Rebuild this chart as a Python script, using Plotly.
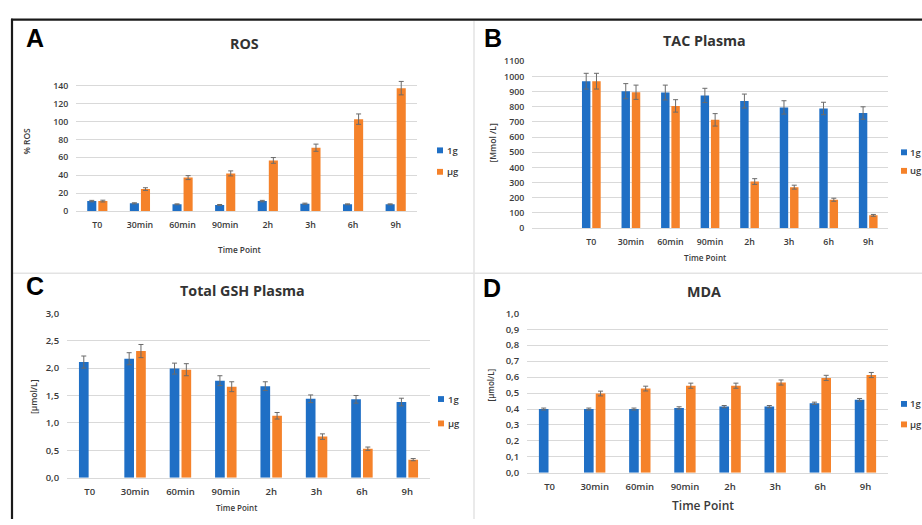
import plotly.graph_objects as go

# ---------------- data ----------------
categories = ["T0", "30min", "60min", "90min", "2h", "3h", "6h", "9h"]

ros_1g = [11.2, 8.7, 7.6, 6.9, 11.2, 8.3, 7.6, 7.6]
ros_1g_err = [0.8, 0.6, 0.5, 0.5, 0.8, 0.6, 0.5, 0.5]
ros_ug = [11.2, 24.6, 37.4, 42.1, 56.6, 70.8, 102.7, 137.3]
ros_ug_err = [1.0, 1.5, 2.2, 2.8, 3.2, 4.0, 5.8, 7.5]

tac_1g = [969, 903, 894, 875, 838, 796, 789, 759]
tac_1g_err = [52, 50, 49, 47, 46, 44, 41, 41]
tac_ug = [969, 896, 806, 714, 307, 270, 187, 84]
tac_ug_err = [52, 47, 41, 41, 19, 13, 10, 6]

gsh_1g = [2.11, 2.17, 1.99, 1.77, 1.67, 1.44, 1.43, 1.38]
gsh_1g_err = [0.11, 0.11, 0.10, 0.09, 0.08, 0.07, 0.07, 0.07]
gsh_ug = [None, 2.31, 1.97, 1.66, 1.13, 0.75, 0.53, 0.33]
gsh_ug_err = [None, 0.12, 0.11, 0.09, 0.06, 0.05, 0.03, 0.02]

mda_1g = [0.40, 0.40, 0.40, 0.407, 0.415, 0.415, 0.436, 0.458]
mda_1g_err = [0.006, 0.006, 0.006, 0.007, 0.007, 0.007, 0.007, 0.008]
mda_ug = [None, 0.497, 0.528, 0.546, 0.546, 0.566, 0.595, 0.613]
mda_ug_err = [None, 0.015, 0.015, 0.016, 0.016, 0.016, 0.016, 0.016]

names_A = ["1g", "μg"]
names_B = ["1g", "ug"]
names_C = ["1g", "μg"]
names_D = ["1g", "μg"]

# ---------------- style ----------------
W, H = 922, 525
BLUE = "#1f6fc5"
ORANGE = "#f5822a"
GRID = "#d9d9d9"
TXT = "#3a3a3a"
FONT = "Open Sans"


def X(px):
    return px / W


def Y(py):
    return 1 - py / H


panels = [
    dict(letter="A", title="ROS", ytitle="% ROS", names=names_A,
         s1=ros_1g, e1=ros_1g_err, s2=ros_ug, e2=ros_ug_err,
         dom_x=(76, 417), dom_y=(74.3, 209.3), yrange=[0, 147], dtick=20, fmt="",
         xrange=[-0.5, 7.5], tickfs=8.8,
         letter_pos=(24, 32), title_pos=(244, 37), ytitle_pos=(27, 138),
         xtitle_pos=(240, 249), xtitle_fs=8.3, ytitle_fs=8.5,
         leg_x=437, leg_tx=445, leg_y=(147, 169)),
    dict(letter="B", title="TAC Plasma", ytitle="[Mmol /L]", names=names_B,
         s1=tac_1g, e1=tac_1g_err, s2=tac_ug, e2=tac_ug_err,
         dom_x=(532, 888), dom_y=(55.7, 226.7), yrange=[0, 1100], dtick=100, fmt="",
         xrange=[-1.5, 7.5], tickfs=8.8,
         letter_pos=(482, 32), title_pos=(704, 34), ytitle_pos=(493, 140),
         xtitle_pos=(705, 257), xtitle_fs=8.2, ytitle_fs=8.5,
         leg_x=901, leg_tx=908, leg_y=(149, 168)),
    dict(letter="C", title="Total GSH Plasma", ytitle="[μmol/L]", names=names_C,
         s1=gsh_1g, e1=gsh_1g_err, s2=gsh_ug, e2=gsh_ug_err,
         dom_x=(67, 430), dom_y=(314, 482.7), yrange=[0, 3], dtick=0.5, fmt=".1f",
         xrange=[-0.5, 7.5], tickfs=9.5,
         letter_pos=(24, 286), title_pos=(243, 291), ytitle_pos=(33, 400),
         xtitle_pos=(236, 513), xtitle_fs=8.0, ytitle_fs=8.5,
         leg_x=438, leg_tx=446, leg_y=(402, 427)),
    dict(letter="D", title="MDA", ytitle="[μmol/L]", names=names_D,
         s1=mda_1g, e1=mda_1g_err, s2=mda_ug, e2=mda_ug_err,
         dom_x=(527, 888), dom_y=(314, 477.7), yrange=[0, 1], dtick=0.1, fmt=".1f",
         xrange=[-0.5, 7.5], tickfs=9.5,
         letter_pos=(481, 288), title_pos=(704, 292), ytitle_pos=(490, 388),
         xtitle_pos=(703, 511), xtitle_fs=12, ytitle_fs=8,
         leg_x=901, leg_tx=908, leg_y=(407, 428)),
]

fig = go.Figure()
annotations = []
shapes = []

for i, p in enumerate(panels):
    n = "" if i == 0 else str(i + 1)
    xa, ya = "x" + n, "y" + n
    for vals, errs, color, name in ((p["s1"], p["e1"], BLUE, p["names"][0]),
                                     (p["s2"], p["e2"], ORANGE, p["names"][1])):
        fig.add_trace(go.Bar(
            x=categories, y=vals, name=name, xaxis=xa, yaxis=ya,
            marker=dict(color=color, line=dict(width=0)),
            error_y=dict(type="data", array=errs, visible=True,
                         color="#6b6b6b", thickness=1, width=2.5),
            showlegend=False,
        ))
    fig.layout["xaxis" + n] = dict(
        domain=[X(p["dom_x"][0]), X(p["dom_x"][1])],
        anchor=ya, type="category", categoryorder="array", categoryarray=categories,
        range=p["xrange"], showgrid=False, zeroline=False,
        showline=True, linecolor=GRID, linewidth=1,
        ticks="outside", ticklen=5, tickcolor="rgba(0,0,0,0)",
        tickfont=dict(family=FONT, size=p["tickfs"], color=TXT, weight=600),
        fixedrange=True,
    )
    fig.layout["yaxis" + n] = dict(
        domain=[Y(p["dom_y"][1]), Y(p["dom_y"][0])],
        anchor=xa, range=p["yrange"], dtick=p["dtick"], tick0=0,
        tickformat=p["fmt"], showgrid=True, gridcolor=GRID, gridwidth=1,
        zeroline=False, showline=False,
        ticks="outside", ticklen=5, tickcolor="rgba(0,0,0,0)",
        tickfont=dict(family=FONT, size=p["tickfs"], color=TXT, weight=600),
        fixedrange=True,
    )
    # panel letter
    annotations.append(dict(
        text=p["letter"], x=X(p["letter_pos"][0]), y=Y(p["letter_pos"][1]),
        xref="paper", yref="paper", xanchor="left", yanchor="middle", showarrow=False,
        font=dict(family="Liberation Sans", size=25, color="#000000", weight="bold")))
    # title
    annotations.append(dict(
        text="<b>" + p["title"] + "</b>", x=X(p["title_pos"][0]), y=Y(p["title_pos"][1]),
        xref="paper", yref="paper", xanchor="center", yanchor="middle", showarrow=False,
        font=dict(family=FONT, size=14.3, color="#333333")))
    # y title
    annotations.append(dict(
        text=p["ytitle"], x=X(p["ytitle_pos"][0]), y=Y(p["ytitle_pos"][1]),
        xref="paper", yref="paper", xanchor="center", yanchor="middle", showarrow=False,
        textangle=-90,
        font=dict(family=FONT, size=p["ytitle_fs"], color=TXT, weight=600)))
    # x title
    annotations.append(dict(
        text="Time Point", x=X(p["xtitle_pos"][0]), y=Y(p["xtitle_pos"][1]),
        xref="paper", yref="paper", xanchor="center", yanchor="middle", showarrow=False,
        font=dict(family=FONT, size=p["xtitle_fs"], color=TXT, weight=600)))
    # legend (squares + labels)
    for name, color, ly in ((p["names"][0], BLUE, p["leg_y"][0]),
                            (p["names"][1], ORANGE, p["leg_y"][1])):
        lx = p["leg_x"]
        shapes.append(dict(type="rect", xref="paper", yref="paper",
                           x0=X(lx), x1=X(lx + 6), y0=Y(ly + 3), y1=Y(ly - 3),
                           fillcolor=color, line=dict(width=0)))
        annotations.append(dict(
            text=name, x=X(p["leg_tx"]), y=Y(ly), xref="paper", yref="paper",
            xanchor="left", yanchor="middle", showarrow=False,
            font=dict(family=FONT, size=9.5, color=TXT, weight=600)))

# frame and dividers
shapes += [
    dict(type="line", xref="paper", yref="paper", x0=X(474), x1=X(474), y0=Y(14), y1=Y(525),
         line=dict(color="#e3e3e3", width=1.5)),
    dict(type="line", xref="paper", yref="paper", x0=X(12), x1=X(922), y0=Y(273), y1=Y(273),
         line=dict(color="#e3e3e3", width=1.5)),
    dict(type="line", xref="paper", yref="paper", x0=X(11), x1=X(922), y0=Y(13), y1=Y(13),
         line=dict(color="#1a1a1a", width=2.2)),
    dict(type="line", xref="paper", yref="paper", x0=X(12), x1=X(12), y0=Y(12), y1=Y(525),
         line=dict(color="#1a1a1a", width=2.2)),
]

fig.update_layout(
    width=W, height=H, margin=dict(l=0, r=0, t=0, b=0),
    paper_bgcolor="white", plot_bgcolor="white",
    barmode="group", bargap=0.48, bargroupgap=0.18,
    separators=",.",
    showlegend=False,
    annotations=annotations, shapes=shapes,
)

fig.write_html(
    "out.html",
    config={"displayModeBar": False},
    post_script="document.body.style.margin='0';document.body.style.overflow='hidden';",
)
